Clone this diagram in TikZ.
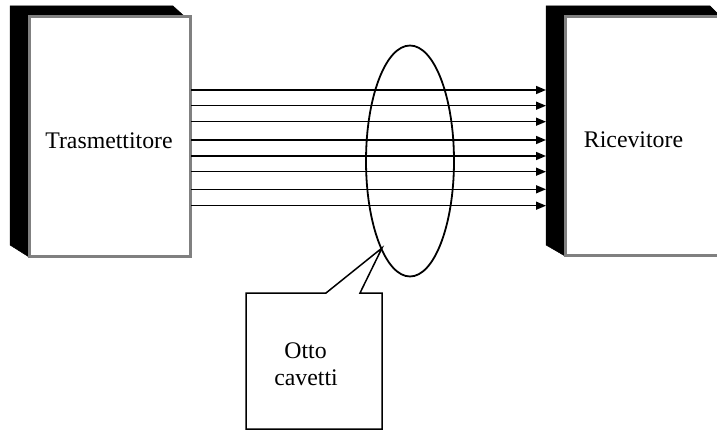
\documentclass[tikz,border=0pt]{standalone}
\usepackage{fontspec}
\setmainfont{Liberation Serif}
\usetikzlibrary{arrows.meta,shapes.geometric}
\definecolor{frontgray}{RGB}{128,128,128}
\begin{document}
\begin{tikzpicture}[x=1pt,y=-1pt,
  front/.style={draw=frontgray, line width=3pt, fill=white, inner sep=0pt},
  side/.style={fill=black, draw=black, line width=0.5pt, line join=miter},
  lbl/.style={font=\fontsize{23.8}{27}\selectfont, inner sep=0pt, anchor=base},
  wire/.style={line width=1.5pt, -{Triangle[length=10pt,width=8pt]}},
  ring/.style={draw, ellipse, line width=1.8pt, inner sep=0pt, minimum width=88pt, minimum height=231pt},
  callout/.style={draw, line width=1.5pt, line join=miter, fill=white}]
\useasboundingbox (0,0) rectangle (717,430);
% transmitter
\draw[side] (10,6) -- (173,6) -- (184,16) -- (29,16) -- (29,257) -- (10,245) -- cycle;
\node[front, minimum width=161pt, minimum height=240pt] (tx) at (110,137) {};
\node[lbl] (txt) at (109,149) {Trasmettitore};
% receiver
\draw[side] (546,6) -- (710,6) -- (720,16) -- (565,16) -- (565,256) -- (546,245) -- cycle;
\node[front, minimum width=160pt, minimum height=239pt] (rx) at (645.5,136.5) {};
\node[lbl] (rxt) at (633.5,148) {Ricevitore};
% wires
\foreach \i/\y in {1/90,2/105.7,3/121.7,4/140,5/156,6/171.7,7/189.3,8/205.7}{
  \coordinate (s\i) at (191,\y);
  \coordinate (e\i) at (546,\y);
  \draw[wire] (s\i) -- (e\i);
}
% ellipse
\node[ring] (bundle) at (410,161) {};
% callout
\coordinate (tip) at (382,248);
\coordinate (c1) at (246,293);
\coordinate (c2) at (326,293);
\coordinate (c3) at (360,293);
\coordinate (c4) at (382,293);
\coordinate (c5) at (382,429);
\coordinate (c6) at (246,429);
\draw[callout] (c1) -- (c2) -- (tip) -- (c3) -- (c4) -- (c5) -- (c6) -- cycle;
\node[lbl] (otto) at (305.5,358) {Otto};
\node[lbl] (cav) at (306,385) {cavetti};
\end{tikzpicture}
\end{document}
